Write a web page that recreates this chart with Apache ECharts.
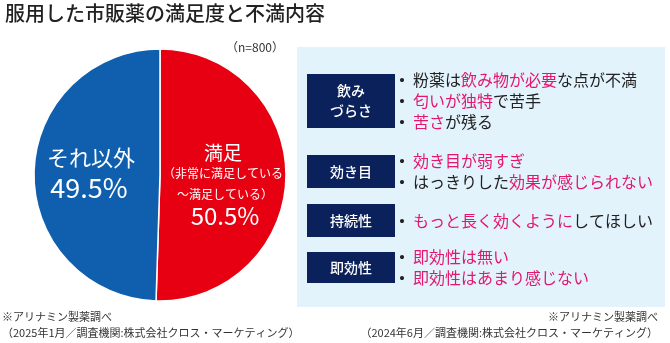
<!DOCTYPE html>
<html><head><meta charset="utf-8">
<script src="https://cdn.jsdelivr.net/npm/echarts@6/dist/echarts.min.js"></script>
<style>html,body{margin:0;padding:0;background:#fff}#c{width:670px;height:343px}</style>
</head><body><div id="c"></div>
<script>
const titleText = '服用した市販薬の満足度と不満内容';
const sampleText = '（n=800）';
const sliceNames = ['満足', 'それ以外'];
const sliceSub = ['（非常に満足している', '～満足している）'];
const sliceValues = [50.5, 49.5];
const sliceColors = ['#e60012', '#0f5fae'];
const categories = ['飲み\nづらさ', '効き目', '持続性', '即効性'];
// each line: segments of [text, highlighted?]
const lines0 = [
  [['粉薬は', 0], ['飲み物が必要', 1], ['な点が不満', 0]],
  [['匂いが独特', 1], ['で苦手', 0]],
  [['苦さ', 1], ['が残る', 0]]
];
const lines1 = [
  [['効き目が弱すぎ', 1]],
  [['はっきりした', 0], ['効果が感じられない', 1]]
];
const lines2 = [
  [['もっと長く効くように', 1], ['してほしい', 0]]
];
const lines3 = [
  [['即効性は無い', 1]],
  [['即効性はあまり感じない', 1]]
];
const groupLines = [lines0, lines1, lines2, lines3];
const noteLeft = ['※アリナミン製薬調べ', '（2025年1月／調査機関:株式会社クロス・マーケティング）'];
const noteRight = ['※アリナミン製薬調べ', '（2024年6月／調査機関:株式会社クロス・マーケティング）'];

const FONT = '"Noto Sans CJK JP", "Noto Sans", sans-serif';
const PINK = '#e4166e';
const NAVY = '#0b215c';
const chart = echarts.init(document.getElementById('c'), null, {renderer: 'canvas'});

const boxes = [[74, 128], [155, 188], [204, 237], [252, 283]];
const graphics = [];
graphics.push({type: 'text', left: 5, top: 3, style: {text: titleText, font: '500 20px ' + FONT, fill: '#222'}});
graphics.push({type: 'text', z: 10, style: {text: sampleText, x: 284, y: 47, align: 'right', verticalAlign: 'middle', font: '12px ' + FONT, fill: '#333'}});
graphics.push({type: 'rect', z: 0, shape: {x: 297, y: 47, width: 368, height: 260}, style: {fill: '#e2f3fc'}});

function lineRich(line) {
  let s = '{b|・}';
  line.forEach(seg => { s += '{' + (seg[1] ? 'p' : 'n') + '|' + seg[0] + '}'; });
  return s;
}
boxes.forEach((bx, i) => {
  const cy = (bx[0] + bx[1]) / 2;
  graphics.push({type: 'rect', z: 1, shape: {x: 307, y: bx[0], width: 88, height: bx[1] - bx[0]}, style: {fill: NAVY}});
  graphics.push({type: 'text', z: 2, style: {text: categories[i], x: 351, y: cy, align: 'center', verticalAlign: 'middle', font: '500 14px ' + FONT, fill: '#fff', lineHeight: 20}});
  graphics.push({type: 'text', z: 2, style: {
    text: groupLines[i].map(lineRich).join('\n'), x: 394, y: cy, align: 'left', verticalAlign: 'middle',
    rich: {
      b: {font: 'bold 16px ' + FONT, fill: '#222', width: 19, lineHeight: 21},
      n: {font: '16px ' + FONT, fill: '#222', lineHeight: 21},
      p: {font: '16px ' + FONT, fill: PINK, lineHeight: 21}
    }
  }});
});
// pie labels
graphics.push({type: 'text', z: 10, style: {text: sliceNames[1], x: 91, y: 158, align: 'center', verticalAlign: 'middle', font: '22px ' + FONT, fill: '#fff'}});
graphics.push({type: 'text', z: 10, style: {text: sliceValues[1].toFixed(1) + '%', x: 89, y: 188, align: 'center', verticalAlign: 'middle', font: '27px ' + FONT, fill: '#fff'}});
graphics.push({type: 'text', z: 10, style: {text: sliceNames[0], x: 223, y: 153, align: 'center', verticalAlign: 'middle', font: '19px ' + FONT, fill: '#fff'}});
graphics.push({type: 'text', z: 10, style: {text: sliceSub[0], x: 223, y: 173, align: 'center', verticalAlign: 'middle', font: '12px ' + FONT, fill: '#fff'}});
graphics.push({type: 'text', z: 10, style: {text: sliceSub[1], x: 225, y: 194, align: 'center', verticalAlign: 'middle', font: '12px ' + FONT, fill: '#fff'}});
graphics.push({type: 'text', z: 10, style: {text: sliceValues[0].toFixed(1) + '%', x: 225, y: 216, align: 'center', verticalAlign: 'middle', font: '24px ' + FONT, fill: '#fff'}});
// notes
graphics.push({type: 'text', style: {text: noteLeft.join('\n'), x: 2, y: 325, align: 'left', verticalAlign: 'middle', font: '11px ' + FONT, fill: '#333', lineHeight: 16}});
graphics.push({type: 'text', style: {text: noteRight.join('\n'), x: 658, y: 325, align: 'right', verticalAlign: 'middle', font: '11px ' + FONT, fill: '#333', lineHeight: 16}});

chart.setOption({
  animation: false,
  graphic: {elements: graphics},
  series: [{
    type: 'pie', center: [160, 175], radius: [0, 126], startAngle: 90, clockwise: true,
    label: {show: false}, labelLine: {show: false}, silent: true,
    itemStyle: {borderColor: '#fff', borderWidth: 1.5},
    data: sliceNames.map((n, i) => ({name: n, value: sliceValues[i], itemStyle: {color: sliceColors[i]}}))
  }]
});
</script></body></html>
